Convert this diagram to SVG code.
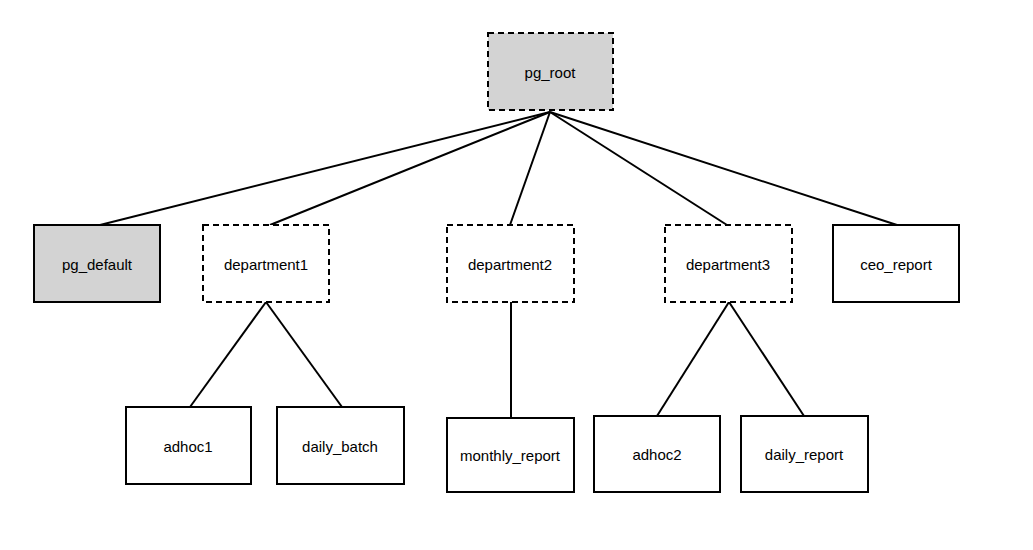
<svg xmlns="http://www.w3.org/2000/svg" width="1033" height="550" viewBox="0 0 1033 550">
<style>
rect{stroke:#000;stroke-width:2}
.g{fill:#d3d3d3}.w{fill:#fff}.d{stroke-dasharray:6 4}
text{font-family:"Liberation Sans",Arial,sans-serif;font-size:15px;text-anchor:middle;dominant-baseline:central}
line{stroke:#000;stroke-width:2}
</style>
<rect width="1033" height="550" fill="#fff" style="stroke:none"/>
<g id="connectors">
<line x1="550" y1="112" x2="100" y2="225"/>
<line x1="550" y1="112" x2="270" y2="225"/>
<line x1="550" y1="112" x2="510" y2="225"/>
<line x1="550" y1="112" x2="727" y2="225"/>
<line x1="550" y1="112" x2="897" y2="225"/>
<line x1="266" y1="302" x2="190" y2="407"/>
<line x1="266" y1="302" x2="342" y2="407"/>
<line x1="511" y1="302" x2="511" y2="418"/>
<line x1="729" y1="302" x2="657" y2="416"/>
<line x1="729" y1="302" x2="804" y2="416"/>
</g>
<g id="pg_root"><rect class="g d" x="488" y="33" width="125" height="77"/><text x="550" y="72">pg_root</text></g>
<g id="pg_default"><rect class="g" x="34" y="225" width="126" height="77"/><text x="97" y="264">pg_default</text></g>
<g id="department1"><rect class="w d" x="203" y="225" width="126" height="77"/><text x="266" y="264">department1</text></g>
<g id="department2"><rect class="w d" x="447" y="225" width="127" height="77"/><text x="510" y="264">department2</text></g>
<g id="department3"><rect class="w d" x="665" y="225" width="127" height="77"/><text x="728" y="264">department3</text></g>
<g id="ceo_report"><rect class="w" x="833" y="225" width="126" height="77"/><text x="896" y="264">ceo_report</text></g>
<g id="adhoc1"><rect class="w" x="126" y="407" width="125" height="77"/><text x="188" y="446">adhoc1</text></g>
<g id="daily_batch"><rect class="w" x="277" y="407" width="127" height="77"/><text x="340" y="446">daily_batch</text></g>
<g id="monthly_report"><rect class="w" x="447" y="418" width="127" height="74"/><text x="510" y="455">monthly_report</text></g>
<g id="adhoc2"><rect class="w" x="594" y="416" width="126" height="76"/><text x="657" y="454">adhoc2</text></g>
<g id="daily_report"><rect class="w" x="741" y="416" width="127" height="76"/><text x="804" y="454">daily_report</text></g>
</svg>
